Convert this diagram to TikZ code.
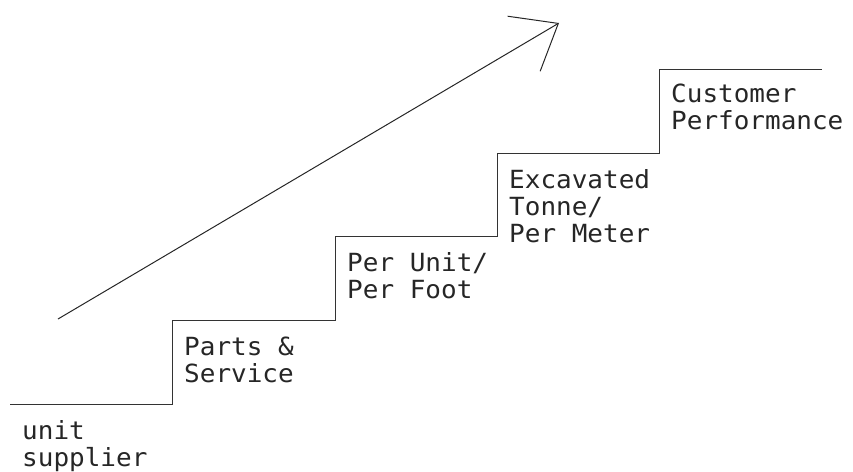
\documentclass[tikz,border=0pt]{standalone}
\usepackage{fontspec}
\newfontfamily\cadfont[FakeStretch=1.04]{DejaVu Sans Mono}
\usetikzlibrary{arrows.meta}
\begin{document}
\begin{tikzpicture}[x=1pt,y=-1pt,
  stairline/.style={draw=black!80,line width=1pt,line join=miter},
  lbl/.style={anchor=base west,inner sep=0pt,align=left,text=black!85,
    font=\cadfont\fontsize{25}{27}\selectfont},
  growth/.style={draw=black!85,line width=1pt,
    -{Straight Barb[length=40pt,width=64pt,line width=1pt]}}]
\useasboundingbox (0,0) rectangle (853,471);

% staircase corners
\coordinate (p0) at (10,404);
\coordinate (p1) at (172,404);
\coordinate (p2) at (172,320);
\coordinate (p3) at (335,320);
\coordinate (p4) at (335,236);
\coordinate (p5) at (497,236);
\coordinate (p6) at (497,153);
\coordinate (p7) at (659,153);
\coordinate (p8) at (659,69);
\coordinate (p9) at (822,69);
\path[stairline] (p0) -- (p1) -- (p2) -- (p3) -- (p4) -- (p5) -- (p6) -- (p7) -- (p8) -- (p9);

% step labels (base anchor sits on the last line)
\node[lbl] (s0) at (22,466) {unit\\supplier};
\node[lbl] (s1) at (184,382) {Parts \&\\Service};
\node[lbl] (s2) at (347,298) {Per Unit/\\Per Foot};
\node[lbl] (s3) at (509,242) {Excavated\\Tonne/\\Per Meter};
\node[lbl] (s4) at (671,129) {Customer\\Performance};

% rising arrow
\coordinate (a0) at (58,319);
\coordinate (a1) at (559,23);
\draw[growth] (a0) -- (a1);
\end{tikzpicture}
\end{document}
